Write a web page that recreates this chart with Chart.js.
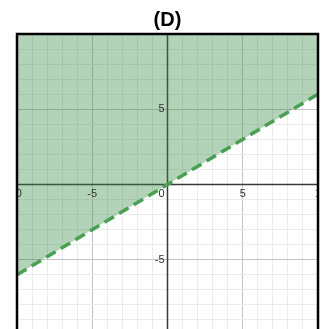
<!DOCTYPE html>
<html>
<head>
<meta charset="utf-8">
<script src="https://cdn.jsdelivr.net/npm/chart.js@4/dist/chart.umd.min.js"></script>
<style>
    html, body { margin: 0; padding: 0; overflow: hidden; background: #fff; }
    #wrap { width: 326px; height: 340px; position: relative; }
</style>
</head>
<body>
<div id="wrap"><canvas id="ineqChart"></canvas></div>
<script>
/* Граница неравенства y > 0.6x (пунктир, закрашено сверху) */
const lineX = [-10, 10];
const lineY = [-6, 6];

/* Подписи делений */
const xTickLabels = [-10, -5, 5, 10];
const yTickLabels = [-10, -5, 5, 10];

const chartTitle = "(D)";

// Цвет сетки: каждая 5-я линия темнее (оси рисуем отдельно)
function gridColor(ctx) {
    const v = ctx.tick.value;
    if (v % 5 === 0) return "#c4c4c4";
    return "#ebebeb";
}

/* Оси x=0 и y=0 — под заливкой */
const axesLines = {
    id: "axesLines",
    beforeDatasetsDraw(chart) {
        const { ctx, chartArea, scales } = chart;
        const x0 = scales.x.getPixelForValue(0);
        const y0 = scales.y.getPixelForValue(0);
        ctx.save();
        ctx.setLineDash([]);
        ctx.strokeStyle = "#3a3a3a";
        ctx.lineWidth = 1.5;
        ctx.beginPath();
        ctx.moveTo(x0, chartArea.top);
        ctx.lineTo(x0, chartArea.bottom);
        ctx.moveTo(chartArea.left, y0);
        ctx.lineTo(chartArea.right, y0);
        ctx.stroke();
        ctx.restore();
    }
};

/* Подписи внутри области графика + рамка */
const axisLabels = {
    id: "axisLabels",
    afterDatasetsDraw(chart) {
        const { ctx, chartArea, scales } = chart;
        const x0 = scales.x.getPixelForValue(0);
        const y0 = scales.y.getPixelForValue(0);

        ctx.save();
        ctx.beginPath();
        ctx.rect(chartArea.left, chartArea.top, chartArea.right - chartArea.left, chartArea.bottom - chartArea.top);
        ctx.clip();
        ctx.font = "11px 'Liberation Sans', Arial, sans-serif";
        ctx.fillStyle = "#333";

        ctx.textAlign = "center";
        ctx.textBaseline = "top";
        xTickLabels.forEach(v => {
            let px = scales.x.getPixelForValue(v);
            if (v === -10) px -= 3;
            if (v === 10) px += 3;
            ctx.fillText(String(v), px, y0 + 4);
        });

        ctx.textAlign = "right";
        ctx.textBaseline = "middle";
        yTickLabels.forEach(v => {
            let py = scales.y.getPixelForValue(v);
            if (v === 10) py -= 3;
            ctx.fillText(String(v), x0 - 3, py);
        });

        ctx.textBaseline = "top";
        ctx.fillText("0", x0 - 3, y0 + 4);
        ctx.restore();

        // чёрная рамка
        ctx.save();
        ctx.setLineDash([]);
        ctx.strokeStyle = "#000";
        ctx.lineWidth = 2.5;
        ctx.strokeRect(chartArea.left, chartArea.top, chartArea.right - chartArea.left, chartArea.bottom - chartArea.top);
        ctx.restore();
    }
};

new Chart(document.getElementById("ineqChart"), {
    type: "line",
    data: {
        datasets: [{
            data: lineX.map((x, i) => ({ x: x, y: lineY[i] })),
            borderColor: "#4a9f53",
            borderWidth: 3.5,
            borderDash: [11, 6],
            borderCapStyle: "butt",
            pointRadius: 0,
            fill: "end",
            backgroundColor: "rgba(56, 140, 70, 0.38)",
            tension: 0
        }]
    },
    options: {
        responsive: true,
        maintainAspectRatio: false,
        animation: false,
        layout: { padding: { left: 17, right: 8, top: 0, bottom: 5 } },
        plugins: {
            legend: { display: false },
            tooltip: { enabled: false },
            title: {
                display: true,
                text: chartTitle,
                color: "#000",
                font: { family: "'Liberation Sans', Arial, sans-serif", size: 20, weight: "bold" },
                padding: { top: 8, bottom: 2 }
            }
        },
        scales: {
            x: {
                type: "linear",
                min: -10,
                max: 10,
                ticks: { display: false, stepSize: 1 },
                grid: { color: gridColor, lineWidth: 1, drawTicks: false },
                border: { display: false }
            },
            y: {
                type: "linear",
                min: -10,
                max: 10,
                ticks: { display: false, stepSize: 1 },
                grid: { color: gridColor, lineWidth: 1, drawTicks: false },
                border: { display: false }
            }
        }
    },
    plugins: [axesLines, axisLabels]
});
</script>
</body>
</html>
